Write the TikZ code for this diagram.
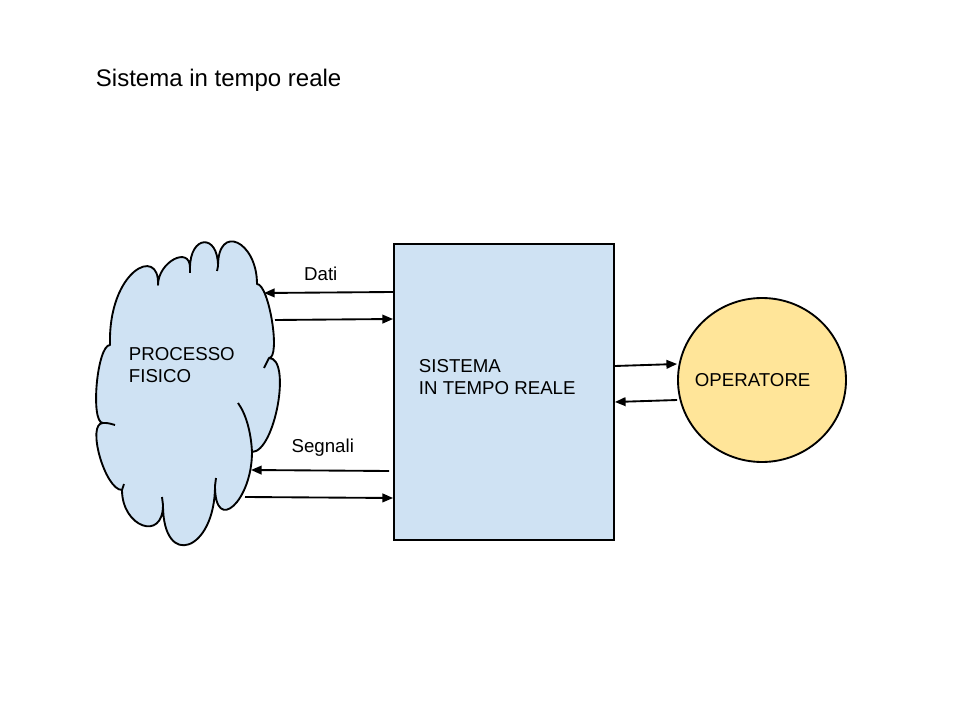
\documentclass[tikz,border=0pt]{standalone}
\usepackage{fontspec}
\setmainfont{Liberation Sans}
\usetikzlibrary{shapes.geometric, arrows.meta, positioning, calc}
\definecolor{boxblue}{HTML}{CFE2F3}
\definecolor{opyellow}{HTML}{FFE599}

\begin{document}
\begin{tikzpicture}[x=0.75pt, y=-0.75pt, line width=1.4pt,
  lbl/.style={font=\fontsize{14}{16.5}\selectfont, align=left, inner sep=0pt},
  conn/.style={-{Triangle[length=8pt, width=6.5pt]}, line width=1.4pt}]
  \useasboundingbox (0,0) rectangle (960,720);
  \node (title) [anchor=base west, inner sep=0pt, font=\fontsize{18}{21}\selectfont] at (95,87) {Sistema in tempo reale};

  % cloud, one puff after the other, clockwise
  \node (proc) [inner sep=0pt, minimum width=135pt, minimum height=229pt] at (188,392) {};
  \begin{scope}[shift={(proc.center)}, line join=round]
    \draw[fill=boxblue] (-78,-47)
      .. controls (-80,-122) and (-28,-147) .. (-30,-107)
      .. controls (-30,-130) and (2,-147) .. (2,-124)
      .. controls (2,-157) and (30,-159) .. (30,-126)
      .. controls (30,-169) and (69,-151) .. (69,-108)
      .. controls (81,-108) and (93,-34) .. (81,-34)
      .. controls (104,-34) and (87,60) .. (64,60)
      .. controls (64,109) and (27,143) .. (27,94)
      .. controls (27,159) and (-25,178) .. (-25,113)
      .. controls (-25,150) and (-66,135) .. (-66,98)
      .. controls (-83,98) and (-102,31) .. (-85,31)
      .. controls (-98,31) and (-91,-47) .. cycle;
    % inner ends of the puffs
    \draw (81,-34) .. controls (79,-30) .. (76,-24);
    \draw (64,60) .. controls (63,40) and (58,22) .. (50,11);
    \draw (-85,31) .. controls (-80,31) .. (-73,33);
    \draw (27,94) -- (28,86);
    \draw (-25,113) -- (-26,105);
    \draw (-66,98) -- (-64,92);
    \draw (2,-124) -- (2,-119);
    \draw (30,-126) -- (29,-121);
  \end{scope}

  \node (sys) [draw, fill=boxblue, minimum width=165pt, minimum height=222pt, inner sep=0pt] at (504,392) {};
  \node (op) [draw, ellipse, fill=opyellow, minimum width=126pt, minimum height=123pt, inner sep=0pt] at (762,380) {};
  \node (proclbl) [lbl, anchor=base west] at (128,382) {PROCESSO\\FISICO};
  \node (syslbl) [lbl, anchor=base west] at (418,394) {SISTEMA\\IN TEMPO REALE};
  \node (oplbl) [lbl, anchor=base west] at (694,386) {OPERATORE};

  \draw[conn] (sys.west |- 0,292) -- ($(proc.center)+(76,-99)$) node[lbl, pos=0.56, anchor=base, yshift=9pt] {Dati};
  \draw[conn] ($(proc.center)+(87,-72)$) -- (sys.west |- 0,319);
  \draw[conn] ([xshift=-3pt]sys.west |- 0,471) -- ($(proc.center)+(63,78)$) node[lbl, pos=0.48, anchor=base, yshift=13.5pt] {Segnali};
  \draw[conn] ($(proc.center)+(57,105)$) -- (sys.west |- 0,498);
  \draw[conn] (sys.east |- 0,366) -- (op.west |- 0,364);
  \draw[conn] (op.west |- 0,400) -- (sys.east |- 0,402);
\end{tikzpicture}
\end{document}
